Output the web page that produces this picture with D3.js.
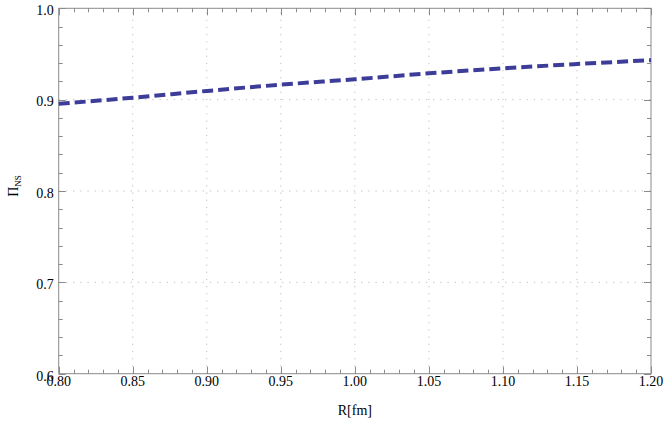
<!DOCTYPE html>
<html>
<head>
<meta charset="utf-8">
<script src="https://cdn.jsdelivr.net/npm/d3@7"></script>
<style>
  body { margin: 0; background: #fff; }
</style>
</head>
<body>
<div id="viz"></div>
<script>
// data
var radius = [0.80, 0.85, 0.90, 0.95, 1.00, 1.05, 1.10, 1.15, 1.20];
var piNS   = [0.8955, 0.9021, 0.9095, 0.9164, 0.9223, 0.9288, 0.9343, 0.9390, 0.9432];
var xTicks = [0.80, 0.85, 0.90, 0.95, 1.00, 1.05, 1.10, 1.15, 1.20];
var yTicks = [0.6, 0.7, 0.8, 0.9, 1.0];

var w = 665, h = 428;
var margin = {top: 8.3, right: 14, bottom: 54.3, left: 58.7};
var serif = "'Liberation Serif', 'Times New Roman', Times, 'DejaVu Serif', serif";

var svg = d3.select("#viz").append("svg")
    .attr("width", w)
    .attr("height", h)
    .style("font-family", serif);

var x = d3.scaleLinear().domain([0.8, 1.2]).range([margin.left, w - margin.right]);
var y = d3.scaleLinear().domain([0.6, 1.0]).range([h - margin.bottom, margin.top]);

var frameColor = "#8a8a8a";

// grid lines
svg.append("g").selectAll("line.gx")
   .data(xTicks.slice(1, -1))
   .enter().append("line")
   .attr("x1", function(d){ return x(d); })
   .attr("x2", function(d){ return x(d); })
   .attr("y1", y(0.6)).attr("y2", y(1.0))
   .style("stroke", "#bdbdbd").style("stroke-width", 1)
   .style("stroke-dasharray", "1.2,6");

svg.append("g").selectAll("line.gy")
   .data(yTicks.slice(1, -1))
   .enter().append("line")
   .attr("y1", function(d){ return y(d); })
   .attr("y2", function(d){ return y(d); })
   .attr("x1", x(0.8)).attr("x2", x(1.2))
   .style("stroke", "#bdbdbd").style("stroke-width", 1)
   .style("stroke-dasharray", "1.2,6");

// minor tick values
var xMinor = d3.range(0, 41).map(function(i){ return 0.8 + i * 0.01; });
var yMinor = d3.range(0, 21).map(function(i){ return 0.6 + i * 0.02; });

function isMajorX(v){ return Math.abs(v * 20 - Math.round(v * 20)) < 1e-6; }
function isMajorY(v){ return Math.abs(v * 10 - Math.round(v * 10)) < 1e-6; }

// ticks: bottom and top
[["bottom", y(0.6), -1], ["top", y(1.0), 1]].forEach(function(s){
  svg.append("g").selectAll("line")
     .data(xMinor).enter().append("line")
     .attr("x1", function(d){ return Math.round(x(d)) + 0.5; })
     .attr("x2", function(d){ return Math.round(x(d)) + 0.5; })
     .attr("y1", s[1])
     .attr("y2", function(d){ return s[1] + s[2] * (isMajorX(d) ? 7 : 4); })
     .style("stroke", frameColor).style("stroke-width", 1);
});

// ticks: left and right
[["left", x(0.8), 1], ["right", x(1.2), -1]].forEach(function(s){
  svg.append("g").selectAll("line")
     .data(yMinor).enter().append("line")
     .attr("y1", function(d){ return Math.round(y(d)) + 0.5; })
     .attr("y2", function(d){ return Math.round(y(d)) + 0.5; })
     .attr("x1", s[1])
     .attr("x2", function(d){ return s[1] + s[2] * (isMajorY(d) ? 7 : 4); })
     .style("stroke", frameColor).style("stroke-width", 1);
});

// frame
svg.append("rect")
   .attr("x", x(0.8)).attr("y", y(1.0))
   .attr("width", x(1.2) - x(0.8))
   .attr("height", y(0.6) - y(1.0))
   .style("fill", "none")
   .style("stroke", frameColor).style("stroke-width", 1);

// tick labels
svg.append("g").selectAll("text")
   .data(xTicks).enter().append("text")
   .attr("x", function(d){ return x(d); })
   .attr("y", y(0.6) + 12.5)
   .attr("text-anchor", "middle")
   .style("font-size", "14px")
   .text(function(d){ return d.toFixed(2); });

svg.append("g").selectAll("text")
   .data(yTicks).enter().append("text")
   .attr("x", x(0.8) - 5)
   .attr("y", function(d){ return y(d) + 6.8; })
   .attr("text-anchor", "end")
   .style("font-size", "14px")
   .text(function(d){ return d.toFixed(1); });

// axis titles
svg.append("text")
   .attr("x", (x(0.8) + x(1.2)) / 2)
   .attr("y", 415)
   .attr("text-anchor", "middle")
   .style("font-size", "14px")
   .text("R[fm]");

var ylab = svg.append("text")
   .attr("transform", "translate(18," + 186 + ") rotate(-90)")
   .attr("text-anchor", "middle")
   .style("font-size", "14px");
ylab.append("tspan").text("\u03A0");
ylab.append("tspan").attr("dy", 3).style("font-size", "9px").text("NS");

// curve
var line = d3.line()
    .x(function(d){ return x(d[0]); })
    .y(function(d){ return y(d[1]); })
    .curve(d3.curveMonotoneX);

svg.append("path")
   .datum(d3.zip(radius, piNS))
   .attr("d", line)
   .style("fill", "none")
   .style("stroke", "#3d3d99")
   .style("stroke-width", 4)
   .style("stroke-dasharray", "11,5");
</script>
</body>
</html>
